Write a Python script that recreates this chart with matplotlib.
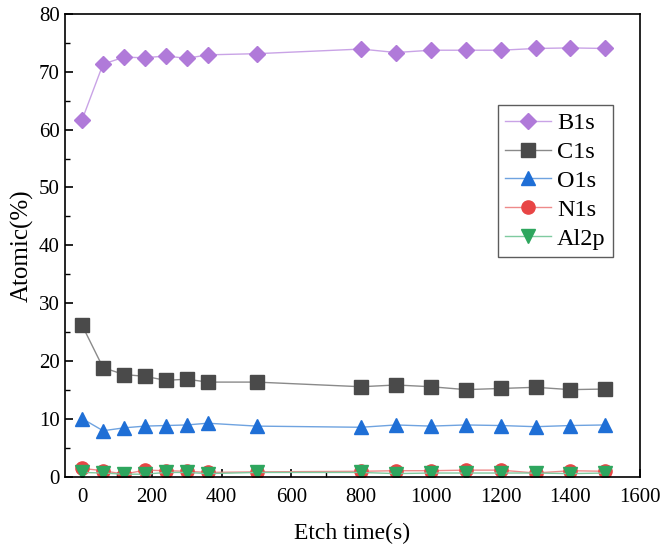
import matplotlib.pyplot as plt
from matplotlib.ticker import MultipleLocator

plt.rcParams['font.family'] = 'Liberation Serif'

# Etch time (s) and atomic percentages
etch_time = [0, 60, 120, 180, 240, 300, 360, 500, 800, 900, 1000, 1100, 1200, 1300, 1400, 1500]
b1s = [61.7, 71.3, 72.5, 72.4, 72.7, 72.3, 72.9, 73.1, 73.9, 73.3, 73.7, 73.7, 73.7, 74.0, 74.1, 74.0]
c1s = [26.2, 18.9, 17.7, 17.4, 16.7, 16.9, 16.4, 16.4, 15.6, 15.9, 15.6, 15.1, 15.3, 15.5, 15.1, 15.2]
o1s = [10.1, 8.0, 8.5, 8.8, 8.9, 9.0, 9.3, 8.8, 8.6, 9.0, 8.8, 9.0, 8.9, 8.7, 8.9, 9.0]
n1s = [1.5, 1.1, 0.5, 1.2, 1.1, 1.0, 0.8, 0.9, 1.0, 1.1, 1.1, 1.2, 1.2, 0.7, 1.1, 1.0]
al2p = [0.8, 0.7, 0.5, 0.5, 0.8, 0.8, 0.6, 0.8, 0.8, 0.6, 0.7, 0.7, 0.7, 0.7, 0.6, 0.7]

fig, ax = plt.subplots(figsize=(6.6, 5.49), dpi=100)
fig.subplots_adjust(left=0.098, right=0.97, top=0.975, bottom=0.131)

# (label, data, marker, marker color, line color)
series = [
    ('B1s', b1s, 'D', '#b07ad9', '#c9a3e6'),
    ('C1s', c1s, 's', '#4a4a4a', '#8a8a8a'),
    ('O1s', o1s, '^', '#1f6fd6', '#6fa3e0'),
    ('N1s', n1s, 'o', '#e84545', '#ee8a8a'),
    ('Al2p', al2p, 'v', '#2ea65e', '#7fcba0'),
]
for label, vals, mk, mc, lc in series:
    ax.plot(etch_time, vals, color=lc, lw=1.0, marker=mk, ms=9.5 if mk != 'D' else 8.5,
            markerfacecolor=mc, markeredgecolor=mc, label=label)

ax.set_xlim(-50, 1600)
ax.set_ylim(0, 80)
ax.xaxis.set_major_locator(MultipleLocator(200))
ax.xaxis.set_minor_locator(MultipleLocator(100))
ax.yaxis.set_major_locator(MultipleLocator(10))
ax.yaxis.set_minor_locator(MultipleLocator(5))
ax.tick_params(which='both', direction='in', top=False, right=False, labelsize=15)
ax.tick_params(axis='x', which='major', pad=8)
ax.tick_params(which='major', length=6, width=1.2)
ax.tick_params(which='minor', length=3.5, width=1.0)
for s in ax.spines.values():
    s.set_linewidth(1.2)

ax.set_xlabel('Etch time(s)', fontsize=17, labelpad=11)
ax.set_ylabel('Atomic(%)', fontsize=18, labelpad=4)

leg = ax.legend(loc='upper right', bbox_to_anchor=(0.953, 0.803), borderaxespad=0,
                fontsize=17.5, fancybox=False, edgecolor='#333333', handlelength=1.9,
                labelspacing=0.28, borderpad=0.3, handletextpad=0.25)
leg.get_frame().set_linewidth(1.0)

plt.savefig('out.png', dpi=100)
